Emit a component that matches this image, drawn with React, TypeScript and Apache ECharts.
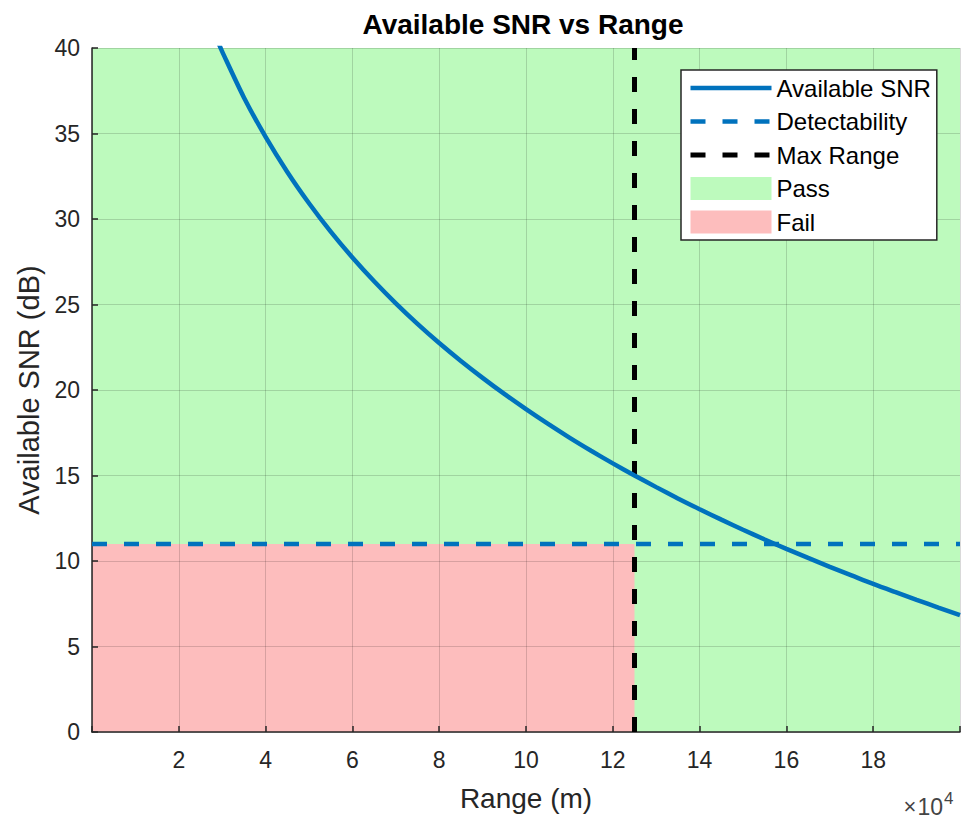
import React, { useEffect, useRef } from "react";
import * as echarts from "echarts";

// Range (x 10^4 m) and Available SNR (dB)
const rangeValues = [2.9, 3.0, 3.5, 4.0, 4.5, 5.0, 5.5, 6.0, 6.5, 7.0, 7.5, 8.0, 8.5, 9.0, 9.5, 10.0, 10.5, 11.0, 11.5, 12.0, 12.5, 13.0, 13.5, 14.0, 14.5, 15.0, 15.5, 16.0, 16.5, 17.0, 17.5, 18.0, 18.5, 19.0, 19.5, 20.0];
const snrValues = [40.38, 39.79, 37.11, 34.8, 32.75, 30.92, 29.26, 27.75, 26.36, 25.07, 23.87, 22.75, 21.7, 20.71, 19.77, 18.88, 18.03, 17.22, 16.45, 15.71, 15.0, 14.32, 13.66, 13.03, 12.42, 11.83, 11.26, 10.71, 10.18, 9.66, 9.16, 8.66, 8.19, 7.73, 7.28, 6.84];

const detectabilityX = [0, 20];
const detectabilityY = [11, 11];
const maxRangeX = [12.5, 12.5];
const maxRangeY = [0, 40];

// regions: [xStart, yStart, xEnd, yEnd]
const passRegion = [0, 0, 20, 40];
const failRegion = [0, 0, 12.5, 11];

const xMin = 0;
const xMax = 20;
const xStep = 2;
const yMin = 0;
const yMax = 40;
const yStep = 5;

const FONT = "'Liberation Sans', Arial, Helvetica, sans-serif";
const AX = "#262626";

const rectRender = (params: any, api: any) => {
  const p0 = api.coord([api.value(0), api.value(3)]);
  const p1 = api.coord([api.value(2), api.value(1)]);
  return {
    type: "rect",
    shape: { x: p0[0], y: p0[1], width: p1[0] - p0[0], height: p1[1] - p0[1] },
    style: api.style(),
  };
};

const hiddenSymbol = { color: "rgba(0,0,0,0)", borderWidth: 0, opacity: 0 };

export default function App() {
  const ref = useRef<HTMLDivElement>(null);
  useEffect(() => {
    if (!ref.current) return;
    const chart = echarts.init(ref.current, null, { renderer: "svg" });
    const option: any = {
      animation: false,
      backgroundColor: "#ffffff",
      title: {
        text: "Available SNR vs Range",
        left: 518,
        textAlign: "center",
        top: 5,
        textStyle: { fontFamily: FONT, fontSize: 28, fontWeight: "bold", color: "#000" },
      },
      grid: { left: 92, top: 48, right: 3, bottom: 87, containLabel: false },
      legend: {
        orient: "vertical",
        left: 681,
        top: 70,
        padding: [6, 6, 6, 7],
        itemWidth: 81,
        itemHeight: 23,
        itemGap: 9.5,
        backgroundColor: "#ffffff",
        borderColor: "#262626",
        borderWidth: 1.5,
        lineStyle: { width: "inherit", type: "inherit" },
        textStyle: { fontFamily: FONT, fontSize: 24, color: "#000" },
        data: [
          { name: "Available SNR", itemStyle: hiddenSymbol },
          { name: "Detectability", itemStyle: hiddenSymbol },
          { name: "Max Range", itemStyle: hiddenSymbol },
          { name: "Pass", icon: "rect" },
          { name: "Fail", icon: "rect" },
        ],
      },
      xAxis: {
        type: "value",
        min: xMin,
        max: xMax,
        interval: xStep,
        name: "Range (m)",
        nameLocation: "middle",
        nameGap: 52,
        nameTextStyle: { fontFamily: FONT, fontSize: 28, color: AX },
        axisLine: { show: true, onZero: false, lineStyle: { color: AX, width: 1.5 } },
        axisTick: { show: true, inside: true, length: 6, lineStyle: { color: AX, width: 1.5 } },
        axisLabel: {
          fontFamily: FONT,
          fontSize: 23,
          color: AX,
          margin: 16,
          formatter: (v: number) => (v > xMin && v < xMax ? String(v) : ""),
        },
        splitLine: { show: true, lineStyle: { color: "rgba(0,0,0,0.15)", width: 1 } },
      },
      yAxis: {
        type: "value",
        min: yMin,
        max: yMax,
        interval: yStep,
        name: "Available SNR (dB)",
        nameLocation: "middle",
        nameGap: 49,
        nameTextStyle: { fontFamily: FONT, fontSize: 29, color: AX },
        axisLine: { show: true, onZero: false, lineStyle: { color: AX, width: 1.5 } },
        axisTick: { show: true, inside: true, length: 6, lineStyle: { color: AX, width: 1.5 } },
        axisLabel: { fontFamily: FONT, fontSize: 23, color: AX, margin: 12 },
        splitLine: { show: true, lineStyle: { color: "rgba(0,0,0,0.15)", width: 1 } },
      },
      series: [
        {
          name: "Pass",
          type: "custom",
          z: -2,
          renderItem: rectRender,
          itemStyle: { color: "#bdfabd" },
          encode: { x: [0, 2], y: [1, 3] },
          data: [passRegion],
          silent: true,
        },
        {
          name: "Fail",
          type: "custom",
          z: -1,
          renderItem: rectRender,
          itemStyle: { color: "#fdbdbd" },
          encode: { x: [0, 2], y: [1, 3] },
          data: [failRegion],
          silent: true,
        },
        {
          name: "Available SNR",
          type: "line",
          showSymbol: false,
          symbol: "none",
          smooth: 0.3,
          clip: true,
          color: "#0072bd",
          lineStyle: { color: "#0072bd", width: 4.5 },
          data: rangeValues.map((r, i) => [r, snrValues[i]]),
          z: 5,
        },
        {
          name: "Detectability",
          type: "line",
          symbol: "none",
          color: "#0072bd",
          lineStyle: { color: "#0072bd", width: 4.5, type: [15, 17] },
          data: detectabilityX.map((x, i) => [x, detectabilityY[i]]),
          z: 4,
        },
        {
          name: "Max Range",
          type: "line",
          symbol: "none",
          color: "#000000",
          lineStyle: { color: "#000000", width: 5, type: [15, 17] },
          data: maxRangeX.map((x, i) => [x, maxRangeY[i]]),
          z: 4,
        },
      ],
      graphic: [
        {
          type: "text",
          x: 943,
          y: 818,
          style: {
            text: "{t|×}{n|10}",
            align: "right",
            verticalAlign: "bottom",
            rich: {
              t: { fontFamily: FONT, fontSize: 22, fill: "#444", padding: [0, 1, 0, 0] },
              n: { fontFamily: FONT, fontSize: 23, fill: "#444" },
            },
          },
        },
        {
          type: "text",
          x: 944,
          y: 807,
          style: {
            text: "4",
            align: "left",
            verticalAlign: "bottom",
            fontFamily: FONT,
            fontSize: 17,
            fill: "#444",
          },
        },
      ],
    };
    chart.setOption(option);
    return () => chart.dispose();
  }, []);
  return (
    <div
      ref={ref}
      style={{ position: "fixed", left: 0, top: 0, width: 963, height: 819 }}
    />
  );
}
